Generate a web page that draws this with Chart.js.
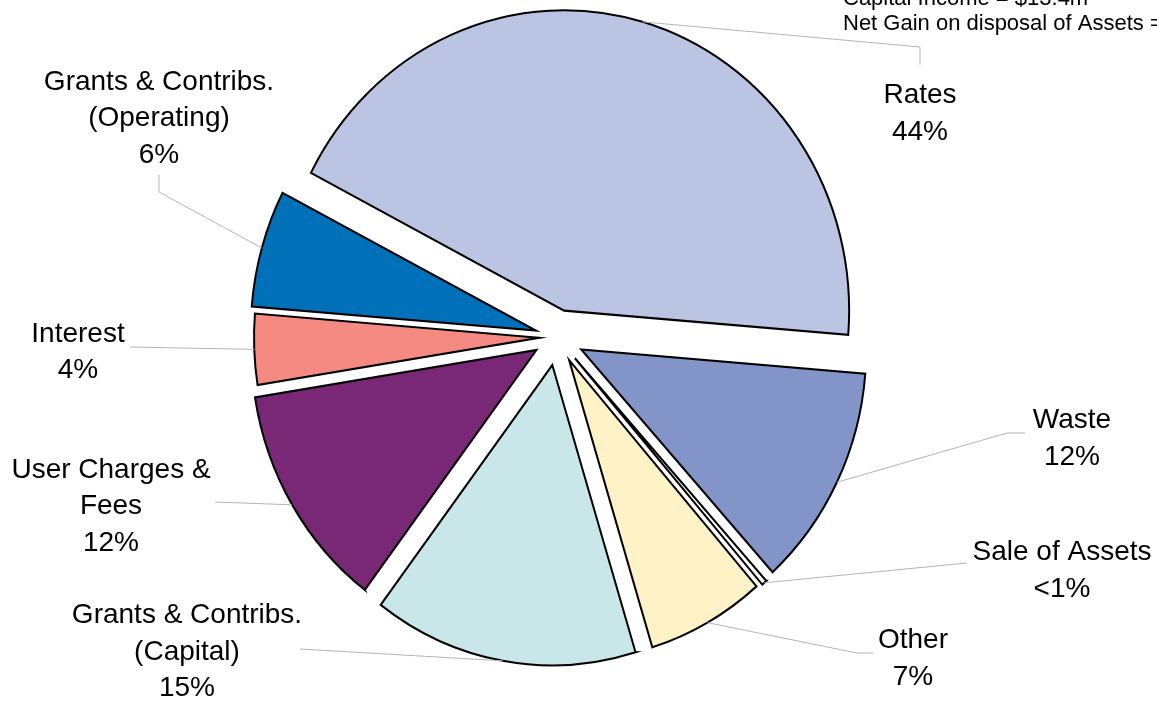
<!DOCTYPE html>
<html>
<head>
<meta charset="utf-8">
<script src="https://cdn.jsdelivr.net/npm/chart.js"></script>
<style>
body { margin: 0; background: #fff; }
#wrap { width: 1157px; height: 702px; }
</style>
</head>
<body>
<div id="wrap"><canvas id="receitas" width="1157" height="702"></canvas></div>
<script>
// categorias e valores (% da receita total)
var categorias = ['Rates', 'Waste', 'Sale of Assets', 'Other', ['Grants & Contribs.', '(Capital)'], ['User Charges &', 'Fees'], 'Interest', ['Grants & Contribs.', '(Operating)']];
var valores = [43.7, 12.0, 0.3, 6.7, 15.0, 12.2, 3.8, 6.3];
var cores = ['#BBC4E3', '#8394C8', '#FFFFFF', '#FFF2C6', '#C9E7E9', '#782874', '#F48A82', '#0070B8'];
var notas = ['Capital Income = $13.4m', 'Net Gain on disposal of Assets = $0.1m'];

// afastamento de cada fatia (px) e posicao dos rotulos
var afastamento = [26, 27, 27, 25, 27, 24, 18, 22];
var rotulos = [
    {x: 920, y: 103, linha: [[920, 47], [920, 65]]},
    {x: 1072, y: 428, linha: [[1007, 433], [1025, 433]]},
    {x: 1062, y: 560, linha: [[967, 563]]},
    {x: 913, y: 648, linha: [[857, 653], [873, 653]]},
    {x: 187, y: 623, linha: [[300, 649]]},
    {x: 111, y: 477.5, linha: [[215, 502]]},
    {x: 78, y: 341.5, linha: [[130, 347]]},
    {x: 159, y: 89.5, linha: [[159, 192], [159, 175]]}
];
var esticaY = 1.054;   // a pizza original e levemente oval
var fonte = '"Liberation Sans", Arial, sans-serif';

var total = valores.reduce(function(a, b) { return a + b; }, 0);

function percentual(v) {
    var p = v / total * 100;
    return p < 1 ? '<1%' : Math.round(p) + '%';
}

// desenha cada fatia afastada do centro, numa pizza levemente oval
var explodePlugin = {
    id: 'explode',
    beforeDatasetsDraw: function(chart) {
        var ctx = chart.ctx;
        var arcs = chart.getDatasetMeta(0).data;
        var cx = arcs[0].x, cy = arcs[0].y;
        ctx.save();
        ctx.translate(cx, cy);
        ctx.scale(1, esticaY);
        ctx.translate(-cx, -cy);
        arcs.forEach(function(arc, i) {
            var meio = (arc.startAngle + arc.endAngle) / 2;
            ctx.save();
            ctx.translate(Math.cos(meio) * afastamento[i], Math.sin(meio) * afastamento[i]);
            arc.draw(ctx);
            ctx.restore();
        });
        ctx.restore();
        return false;
    }
};

var rotulosPlugin = {
    id: 'rotulos',
    afterDraw: function(chart) {
        var ctx = chart.ctx;
        var meta = chart.getDatasetMeta(0);
        ctx.save();
        meta.data.forEach(function(arc, i) {
            var meio = (arc.startAngle + arc.endAngle) / 2;
            var d = arc.outerRadius + afastamento[i];
            var ax = arc.x + Math.cos(meio) * d;
            var ay = arc.y + Math.sin(meio) * d * esticaY;
            var r = rotulos[i];

            ctx.strokeStyle = '#b4b4b4';
            ctx.lineWidth = 1;
            ctx.beginPath();
            ctx.moveTo(ax, ay);
            r.linha.forEach(function(pt) { ctx.lineTo(pt[0], pt[1]); });
            ctx.stroke();

            var linhas = [].concat(categorias[i]);
            linhas.push(percentual(valores[i]));
            ctx.fillStyle = '#000';
            ctx.font = '28px ' + fonte;
            ctx.textAlign = 'center';
            ctx.textBaseline = 'alphabetic';
            linhas.forEach(function(t, k) {
                ctx.fillText(t, r.x, r.y + k * 36.5);
            });
        });

        ctx.font = '22px ' + fonte;
        ctx.textAlign = 'left';
        ctx.fillText(notas[0], 843, 5);
        ctx.fillText(notas[1], 843, 30);
        ctx.restore();
    }
};

var ctx = document.getElementById('receitas');
var grafico = new Chart(ctx, {
    type: 'pie',
    data: {
        labels: categorias,
        datasets: [{
            data: valores,
            backgroundColor: cores,
            borderColor: '#000',
            borderWidth: 2,
            borderJoinStyle: 'miter'
        }]
    },
    options: {
        responsive: false,
        animation: false,
        rotation: -62.7,
        radius: 285,
        layout: { padding: { left: 0, right: 43, top: 0, bottom: 28 } },
        plugins: {
            legend: { display: false },
            tooltip: { enabled: false }
        }
    },
    plugins: [explodePlugin, rotulosPlugin]
});
</script>
</body>
</html>
